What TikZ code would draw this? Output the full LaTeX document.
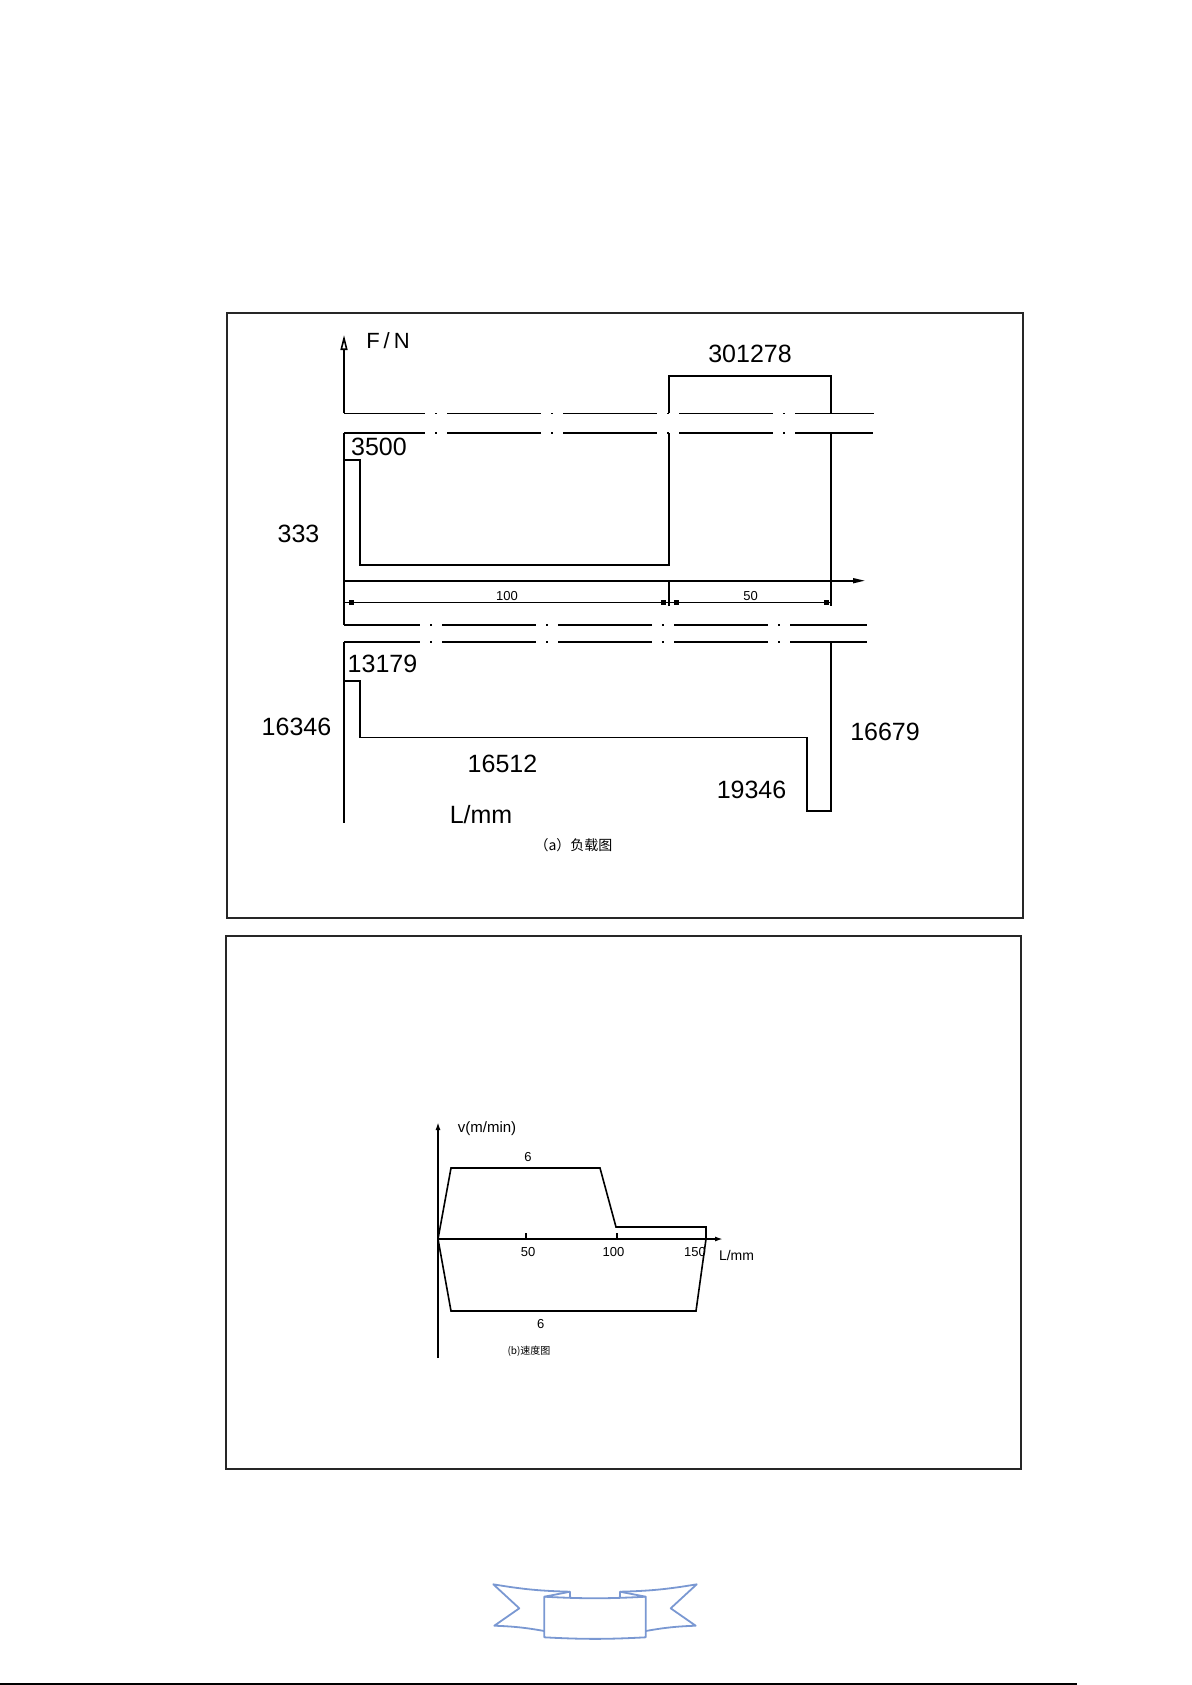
\documentclass[tikz,border=0pt]{standalone}
\usepackage{fontspec}
\setmainfont{Liberation Sans}
\newfontfamily\cjk{Noto Sans CJK SC}
\usetikzlibrary{arrows.meta}
\definecolor{ribbonblue}{RGB}{122,152,210}

\begin{document}
\begin{tikzpicture}[x=0.5pt,y=-0.5pt,
    frame/.style={draw=black!85,line width=1pt},
    curve/.style={draw,line width=0.8pt},
    centreline/.style={draw,line width=0.8pt,
      dash pattern=on 46.75pt off 5.25pt on 0.75pt off 5.25pt},
    bignum/.style={inner sep=0pt,font=\fontsize{12.5}{14}\selectfont},
    tinynum/.style={inner sep=0pt,font=\fontsize{6.5}{8}\selectfont},
    ribbon/.style={draw=ribbonblue,line width=0.9pt,line join=round}]
  \useasboundingbox (0,0) rectangle (1192,1685);

  % frames
  \draw[frame] (226.7,312.7) rectangle (1023.3,918.3);
  \draw[frame] (225.7,935.7) rectangle (1021,1469);

  % (a) load diagram
  \coordinate (o1) at (344,413.3);
  \coordinate (o2) at (344,432.7);
  \coordinate (o3) at (344,625);
  \coordinate (o4) at (344,641.7);
  \draw[curve,-{Triangle[open,length=7.5pt,width=3.5pt]}] (o1) -- (344,335);
  \draw[centreline,dash phase=6.5pt] (o1) -- (874,413.3);
  \draw[centreline,dash phase=6.5pt] (o2) -- (873,432.7);
  \draw[centreline,dash phase=9pt] (o3) -- (867,625);
  \draw[centreline,dash phase=9pt] (o4) -- (867,641.7);
  \draw[curve] (o2) -- (o3);
  \draw[curve] (344,460) -| (360,565) -| (669,432.7);
  \draw[curve] (669,413.3) |- (831,376) -- (831,413.3);
  \draw[curve] (831,432.7) -- (831,606);
  \draw[curve,-{Triangle[length=6pt,width=2.5pt]}] (344,580.7) -- (865,580.7);
  \draw[curve] (669,580.7) -- (669,606);
  \draw[curve] (344,602.3) -- (831,602.3);
  \foreach \x in {351,663,676,826}
    \fill (\x-2.5,600) rectangle (\x+2.5,604.6);
  \draw[curve] (o4) -- (344,823);
  \draw[curve] (344,680.7) -| (360,737.3) -| (807,811) -| (831,641.7);

  \node[inner sep=0pt,font=\fontsize{11}{13}\selectfont] (fn) at (388,340.5) {F\kern2pt/\kern2pt N};
  \node[bignum] (f1) at (750,353.5) {301278};
  \node[bignum] (f2) at (379,446.5) {3500};
  \node[bignum] (f3) at (298.5,534) {333};
  \node[bignum] (f4) at (382.5,663.5) {13179};
  \node[bignum] (f5) at (296.5,726.5) {16346};
  \node[bignum] (f6) at (502.5,763.5) {16512};
  \node[bignum] (f7) at (885,731.5) {16679};
  \node[bignum] (f8) at (751.5,789.5) {19346};
  \node[bignum] (lmm) at (481,814.5) {L/mm};
  \node[tinynum] (d1) at (507,596) {100};
  \node[tinynum] (d2) at (750.5,596) {50};
  \node[inner sep=0pt,font=\cjk\fontsize{7}{8}\selectfont] (capa) at (573.5,845.5) {（a）负载图};

  % (b) speed diagram
  \coordinate (vo) at (438,1239);
  \draw[curve,-{Latex[length=4pt,width=2.5pt]}] (438,1358) -- (438,1122);
  \draw[curve,-{Latex[length=4pt,width=2.5pt]}] (vo) -- (723,1239);
  \draw[curve] (vo) -- (451,1168) -- (600,1168) -- (616,1227) -- (706,1227) -- (706,1239);
  \draw[curve] (vo) -- (451,1311) -- (696,1311) -- (706,1239);
  \foreach \x in {526,616.7}
    \draw[curve] (\x,1233) -- (\x,1239);

  \node[inner sep=0pt,font=\fontsize{7.5}{9}\selectfont] (vlab) at (487,1129) {v(m/min)};
  \node[tinynum] (v1) at (528,1157.5) {6};
  \node[tinynum] (v2) at (540.7,1324) {6};
  \node[tinynum] (t50) at (528,1252.5) {50};
  \node[tinynum] (t100) at (613.5,1252.5) {100};
  \node[tinynum] (t150) at (695,1252.5) {150};
  \node[inner sep=0pt,font=\fontsize{7}{8}\selectfont] (lmmb) at (736.5,1255.5) {L/mm};
  \node[inner sep=0pt,font=\cjk\fontsize{5}{6}\selectfont] (capb) at (529,1351) {(b)速度图};

  % ribbon
  \draw[ribbon] (544.3,1631) to[bend right=4] (494.3,1625.7) -- (519.3,1608.3)
    -- (493.3,1584.3) to[bend right=4] (570,1591.7) -- (570,1598);
  \draw[ribbon] (544.3,1596.7) -- (570,1591.7);
  \draw[ribbon] (645.7,1631) to[bend left=4] (695.7,1625.7) -- (670.7,1608.3)
    -- (696.7,1584.3) to[bend left=4] (620,1591.7) -- (620,1598);
  \draw[ribbon] (645.7,1596.7) -- (620,1591.7);
  \draw[ribbon] (544.3,1596.7) to[bend right=3] (645.7,1596.7) -- (645.7,1637.3)
    to[bend left=3] (544.3,1637.3) -- cycle;

  % page rule
  \draw[line width=1pt] (0,1684) -- (1077,1684);
\end{tikzpicture}
\end{document}
